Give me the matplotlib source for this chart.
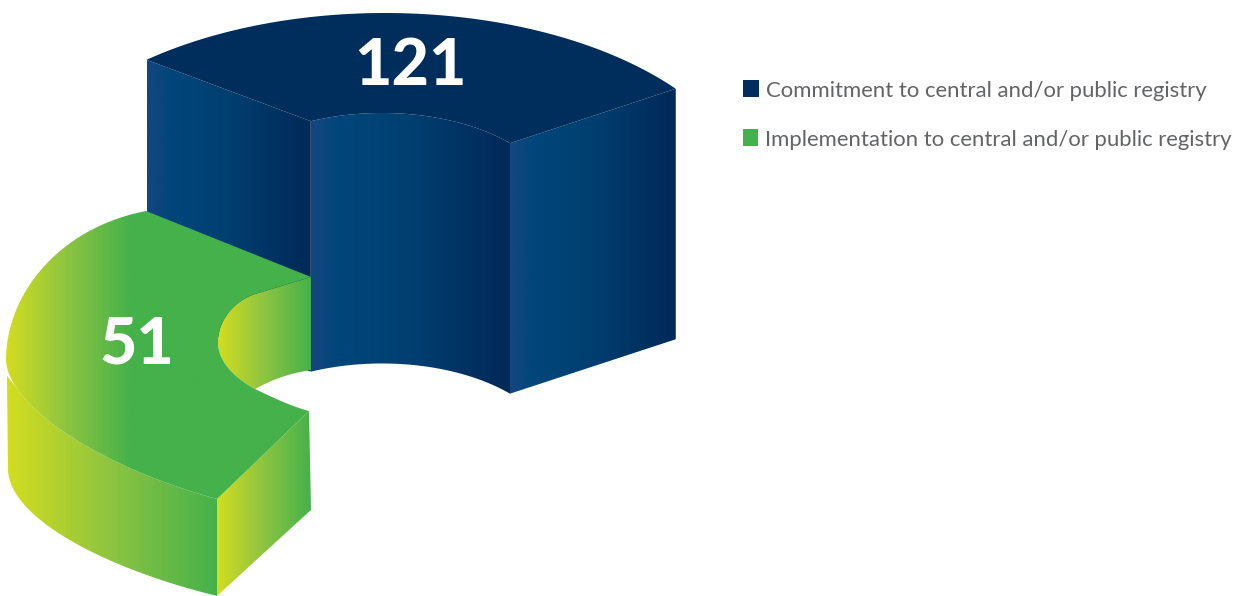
import numpy as np
import matplotlib
matplotlib.use('Agg')
import matplotlib.pyplot as plt
from matplotlib.colors import LinearSegmentedColormap
from matplotlib.patches import Polygon, Rectangle

labels = ['Commitment to central and/or public registry',
          'Implementation to central and/or public registry']
values = [121, 51]
swatch_colours = ['#002e5d', '#45b14b']

DEPTH_PER_UNIT = [2.07, 1.90]   # extrusion height, pixels per unit

BLUE_TOP = '#002e5c'
BLUE_RAMP = LinearSegmentedColormap.from_list(
    'blue', [(0, '#15467f'), (0.14, '#00467a'), (0.5, '#003f70'), (0.92, '#002c5b'), (1, '#002a57')])
GREEN_RAMP = LinearSegmentedColormap.from_list(
    'green', [(0, '#d3dd20'), (0.5, '#8cc441'), (1, '#45b14b')])
# top face of the green segment: the ramp ends part way across, then stays flat
GREEN_TOP_RAMP = LinearSegmentedColormap.from_list(
    'green_top', [(0, '#d3dd20'), (0.2, '#8cc441'), (0.41, '#45b14b'), (1, '#45b14b')])


def bezier(p0, c1, c2, p1, n=60):
    t = np.linspace(0, 1, n)[:, None]
    p0, c1, c2, p1 = map(np.asarray, (p0, c1, c2, p1))
    return (1 - t)**3 * p0 + 3 * (1 - t)**2 * t * c1 + 3 * (1 - t) * t**2 * c2 + t**3 * p1


def ellipse_arc(cx, cy, rx, ry, a0, a1, n=80):
    a = np.radians(np.linspace(a0, a1, n))
    return np.column_stack([cx + rx * np.cos(a), cy - ry * np.sin(a)])


def shaded(ax, pts, cmap, z=1):
    """Fill a polygon with a left-to-right colour ramp."""
    pts = np.asarray(pts)
    ramp = np.linspace(0, 1, 256)[None, :]
    im = ax.imshow(ramp, cmap=cmap, aspect='auto', zorder=z, interpolation='bilinear',
                   extent=(pts[:, 0].min(), pts[:, 0].max(), pts[:, 1].max(), pts[:, 1].min()))
    patch = Polygon(pts, closed=True, transform=ax.transData, facecolor='none', edgecolor='none')
    ax.add_patch(patch)
    im.set_clip_path(patch)


fig = plt.figure(figsize=(12.41, 5.96), dpi=100)
ax = fig.add_axes([0, 0, 1, 1])

blue_depth = values[0] * DEPTH_PER_UNIT[0]
green_depth = values[1] * DEPTH_PER_UNIT[1]

# ── Blue segment ──────────────────────────────────────────────────────────────
outer = ellipse_arc(385, 213, 371, 200, 130, 38.4)
inner = ellipse_arc(382, 208, 175, 95, 114, 43)
down = np.array([0, blue_depth])

left_face = [outer[0], inner[0], inner[0] + down, outer[0] + down]
right_face = [inner[-1], outer[-1], outer[-1] + down, inner[-1] + down]
inner_face = np.vstack([inner, (inner + down)[::-1]])

shaded(ax, left_face, BLUE_RAMP, z=1)
shaded(ax, inner_face, BLUE_RAMP, z=2)
shaded(ax, right_face, BLUE_RAMP, z=2)
ax.add_patch(Polygon(np.vstack([outer, inner[::-1]]), closed=True,
                     facecolor=BLUE_TOP, edgecolor='none', zorder=3))

# ── Green segment ─────────────────────────────────────────────────────────────
upper_edge = bezier((146, 211), (58, 228), (6, 295), (6, 360))
lower_edge = bezier((6, 360), (8, 410), (110, 470), (217, 499))
bottom_edge = bezier((217, 499 + green_depth), (110, 570), (10, 520), (8, 470))

hole_top = bezier((255, 294), (232, 302), (218, 322), (218, 342))
hole_bot = bezier((218, 342), (218, 362), (235, 378), (255, 389))
hole_end = bezier((255, 389), (272, 397), (290, 406), (309, 411))

# outer wall sits under the top face
wall = np.vstack([[(7, 376)], lower_edge[10:], bottom_edge])
shaded(ax, wall, GREEN_RAMP, z=4)

# end cut
cut = [(217, 499), (309, 411), (311, 411 + green_depth + 2), (217, 499 + green_depth)]
shaded(ax, cut, GREEN_RAMP, z=4)

# visible part of the inner wall
hole_wall = np.vstack([[(311, 277)], hole_top, hole_bot,
                       bezier((255, 389), (275, 378), (292, 373), (311, 370))])
shaded(ax, hole_wall, GREEN_RAMP, z=4)

top_face = np.vstack([upper_edge, lower_edge, hole_end[::-1], hole_bot[::-1],
                      hole_top[::-1], [(311, 277)]])
shaded(ax, top_face, GREEN_TOP_RAMP, z=5)

# ── Value labels ──────────────────────────────────────────────────────────────
for v, x, y in zip(values, [410, 137], [85, 363]):
    ax.text(x, y, str(v), color='white', fontsize=46.5, fontweight='black',
            family='Lato', ha='center', va='baseline', zorder=6)

# ── Legend ────────────────────────────────────────────────────────────────────
for label, colour, x, y_box, y_text, w in zip(labels, swatch_colours, [766, 765],
                                              [80, 129], [97, 146], [16, 15]):
    ax.add_patch(Rectangle((743, y_box), w, 17, facecolor=colour, edgecolor='none', zorder=6))
    ax.text(x, y_text, label, color='#636466', fontsize=15.93, family='Lato',
            ha='left', va='baseline', zorder=6)

ax.set_xlim(0, 1241)
ax.set_ylim(596, 0)
ax.axis('off')

fig.savefig('out.png', dpi=100)
plt.close(fig)
